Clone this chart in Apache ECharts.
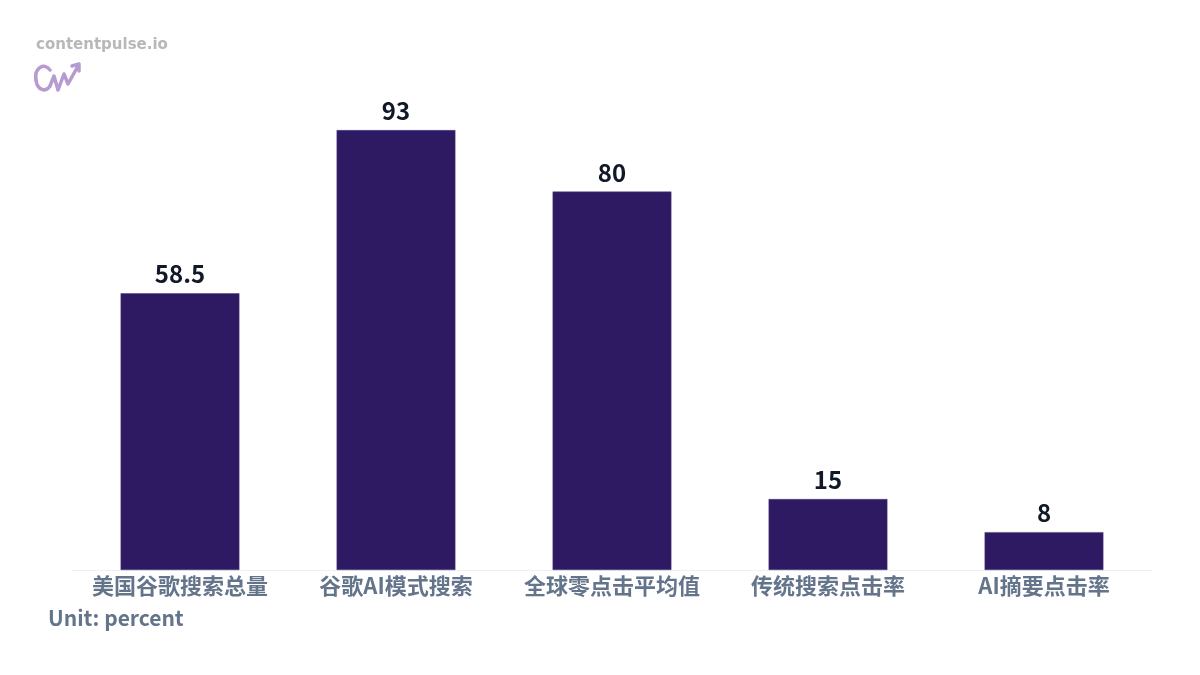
<!DOCTYPE html>
<html><head><meta charset="utf-8">
<script src="https://cdn.jsdelivr.net/npm/echarts@6/dist/echarts.min.js"></script>
<style>html,body{margin:0;padding:0;background:#fff}#c{width:1200px;height:675px}</style>
</head><body><div id="c"></div>
<script>
const categories = ['美国谷歌搜索总量', '谷歌AI模式搜索', '全球零点击平均值', '传统搜索点击率', 'AI摘要点击率'];
const values = [58.5, 93, 80, 15, 8];
const unitText = 'Unit: percent';
const brandText = 'contentpulse.io';

const chart = echarts.init(document.getElementById('c'));
const font = '"Noto Sans CJK SC", "Noto Sans", sans-serif';
const iconStyle = { stroke: '#b79ad0', lineWidth: 3.5, fill: null, lineJoin: 'round', lineCap: 'round' };
chart.setOption({
  backgroundColor: '#ffffff',
  animation: false,
  grid: { left: 72, right: 48, top: 97, bottom: 105, containLabel: false },
  xAxis: {
    type: 'category', data: categories,
    axisLine: { show: true, lineStyle: { color: '#eef0f3', width: 1 } },
    axisTick: { show: false },
    axisLabel: { interval: 0, hideOverlap: false, color: '#64748b', fontSize: 22, fontWeight: 'bold', fontFamily: font, margin: 5 }
  },
  yAxis: { type: 'value', min: 0, max: 100, show: false, splitLine: { show: false } },
  series: [{
    type: 'bar', data: values, barWidth: '55%',
    itemStyle: { color: '#2e1a62', borderColor: '#4a3a7e', borderWidth: 0.5 },
    label: { show: true, position: 'top', distance: 7, color: '#111827', fontSize: 24, fontWeight: 'bold', fontFamily: font }
  }],
  graphic: [
    { type: 'text', left: 48, top: 608, style: { text: unitText, fill: '#64748b', fontSize: 21, fontWeight: 'bold', fontFamily: font } },
    { type: 'text', left: 36, top: 38, style: { text: brandText, fill: '#b8b8b8', fontSize: 15, fontWeight: 'bold', fontFamily: '"DejaVu Sans", sans-serif' } },
    { type: 'bezierCurve', shape: { x1: 50, y1: 70, cpx1: 44, cpy1: 62, cpx2: 34, cpy2: 68, x2: 36, y2: 80 }, style: iconStyle },
    { type: 'bezierCurve', shape: { x1: 36, y1: 80, cpx1: 37, cpy1: 90, cpx2: 46, cpy2: 93, x2: 50, y2: 86 }, style: iconStyle },
    { type: 'polyline', shape: { points: [[50,86],[54,76],[58,90],[64,74],[68,84],[78,66]] }, style: iconStyle },
    { type: 'polyline', shape: { points: [[72,66],[79,64],[79,71]] }, style: iconStyle }
  ]
});
</script></body></html>
